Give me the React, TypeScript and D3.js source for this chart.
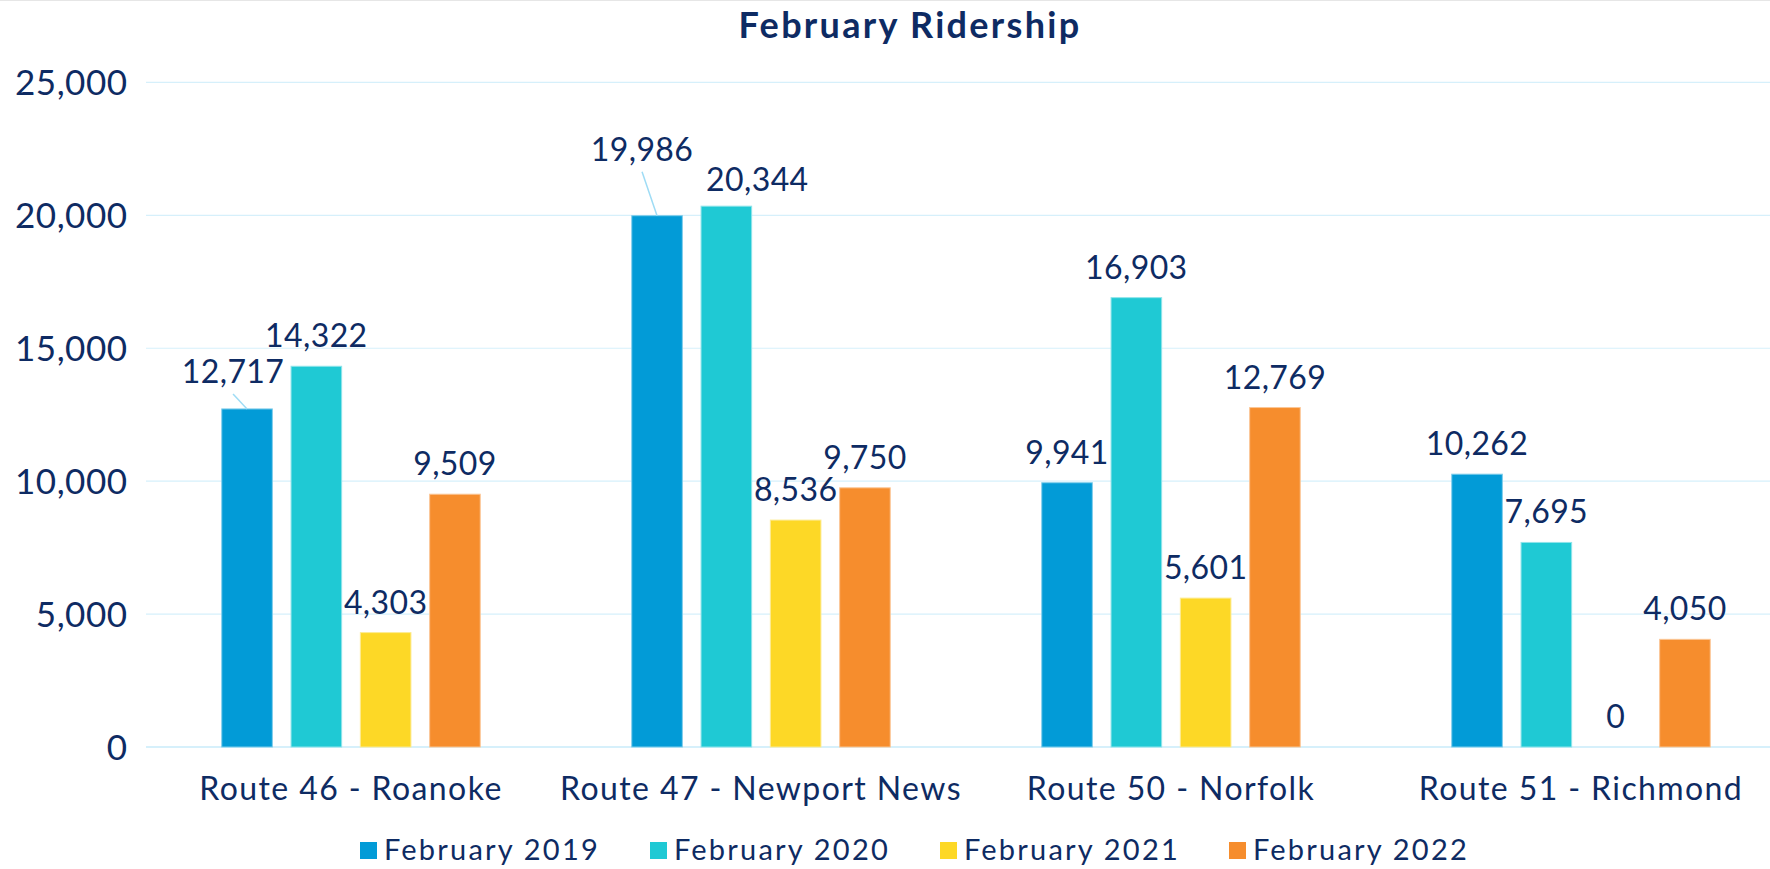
import React from "react";
import * as d3 from "d3";

const categories = [
  "Route 46 - Roanoke",
  "Route 47 - Newport News",
  "Route 50 - Norfolk",
  "Route 51 - Richmond",
];
const seriesNames = ["February 2019", "February 2020", "February 2021", "February 2022"];
const feb2019 = [12717, 19986, 9941, 10262];
const feb2020 = [14322, 20344, 16903, 7695];
const feb2021 = [4303, 8536, 5601, 0];
const feb2022 = [9509, 9750, 12769, 4050];
const yTicks = [0, 5000, 10000, 15000, 20000, 25000];

const seriesValues = [feb2019, feb2020, feb2021, feb2022];
const colors = ["#029bd7", "#1fc9d4", "#fdd826", "#f68d2d"];
const strokeColors = ["#7fcdeb", "#8fe4ea", "#fdeb92", "#fbc696"];

// manual label displacements (series index, category index) -> [dx, dy, leader]
const labelMoves: Record<string, [number, number, boolean]> = {
  "0-0": [-14, -7, true],
  "0-1": [-15, -36, true],
  "1-1": [31, 4, false],
};

const W = 1770;
const H = 869;
const NAVY = "#0e2b63";
const FONT = "Lato, 'Open Sans', sans-serif";

export default function App() {
  const x0 = d3.scaleBand<string>().domain(categories).range([146, 1786]).paddingInner(0).paddingOuter(0);
  const x1 = d3
    .scaleBand<string>()
    .domain(seriesNames)
    .range([0, x0.bandwidth()])
    .paddingInner(0.27)
    .paddingOuter(1.093);
  const y = d3.scaleLinear().domain([0, 25000]).range([747, 82.4]);
  const fmt = d3.format(",");

  const legendX = [360, 650, 940, 1229];

  return (
    <svg
      width={W}
      height={H}
      style={{ position: "absolute", left: 0, top: 0, background: "#fff" }}
      fontFamily={FONT}
    >
      <rect x={0} y={0} width={W} height={H} fill="#fff" />
      <line x1={0} x2={W} y1={0.5} y2={0.5} stroke="#e6e6e6" strokeWidth={1} />
      <text
        x={910}
        y={37.5}
        textAnchor="middle"
        fontSize={36}
        fontWeight={700}
        letterSpacing={2.3}
        fill={NAVY}
      >
        February Ridership
      </text>

      {yTicks.map((t) => (
        <g key={t}>
          <line
            x1={146}
            x2={W}
            y1={y(t)}
            y2={y(t)}
            stroke="#d6f0fb"
            strokeWidth={t === 0 ? 2 : 1.2}
          />
          <text
            x={127.5}
            y={y(t)}
            dy="0.36em"
            textAnchor="end"
            fontSize={35}
            letterSpacing={0.5}
            fill={NAVY}
          >
            {fmt(t)}
          </text>
        </g>
      ))}

      {categories.map((c, ci) => (
        <g key={c}>
          {seriesNames.map((s, si) => {
            const v = seriesValues[si][ci];
            const bx = (x0(c) as number) + (x1(s) as number);
            const bw = x1.bandwidth();
            const top = y(v);
            const cx = bx + bw / 2;
            const mv = labelMoves[`${si}-${ci}`] || [0, 0, false];
            const lx = cx + mv[0];
            const ly = top - 19 + mv[1];
            return (
              <g key={s}>
                {v > 0 && (
                  <rect
                    x={bx}
                    y={top}
                    width={bw}
                    height={y(0) - top}
                    fill={colors[si]}
                    stroke={strokeColors[si]}
                    strokeWidth={1}
                  />
                )}
                {mv[2] && (
                  <line
                    x1={lx}
                    y1={ly + 11}
                    x2={cx}
                    y2={top}
                    stroke="#9fdcf5"
                    strokeWidth={1.5}
                  />
                )}
                <text x={lx} y={ly} textAnchor="middle" fontSize={32} letterSpacing={0.4} fill={NAVY}>
                  {fmt(v)}
                </text>
              </g>
            );
          })}
          <text
            x={(x0(c) as number) + x0.bandwidth() / 2}
            y={800}
            textAnchor="middle"
            fontSize={32}
            letterSpacing={1.4}
            fill={NAVY}
          >
            {c}
          </text>
        </g>
      ))}

      {seriesNames.map((s, si) => (
        <g key={s}>
          <rect x={legendX[si]} y={842} width={17} height={17} fill={colors[si]} />
          <text x={legendX[si] + 24} y={860} fontSize={29} letterSpacing={2.2} fill={NAVY}>
            {s}
          </text>
        </g>
      ))}
    </svg>
  );
}
